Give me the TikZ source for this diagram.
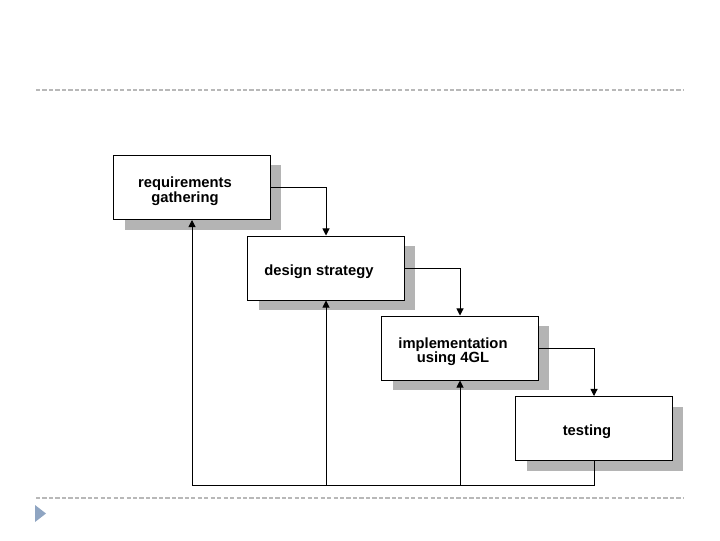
\documentclass[tikz,border=0pt]{standalone}
\usepackage{fontspec}
\setmainfont{Liberation Sans}
\usetikzlibrary{arrows.meta,shadows}
\definecolor{shade}{HTML}{B4B4B4}
\definecolor{rule}{HTML}{B8B8B8}
\definecolor{bullet}{HTML}{8FA5C2}
% text of a phase box: a little left of and below the middle
\newcommand\phtext[1]{\raisebox{-3pt}[\height][\depth]{\begin{tabular}{@{}c@{}}#1\end{tabular}}\hspace*{10pt}}

\begin{document}
\begin{tikzpicture}[x=0.025cm,y=-0.025cm,
  phase/.style={draw,line width=0.7pt,fill=white,minimum width=3.9cm,minimum height=1.6cm,
    font=\fontsize{10.5}{10}\selectfont\bfseries,
    general shadow={fill=shade,shadow xshift=0.275cm,shadow yshift=-0.25cm}},
  flow/.style={line width=0.7pt,-{Triangle[width=5pt,length=5pt]}},
  sep/.style={rule,line width=0.8pt,dash pattern=on 3pt off 1.6pt}]
\useasboundingbox (0,0) rectangle (720,540);
% separators
\draw[sep] (36,90)--(684,90);
\draw[sep] (36,498)--(684,498);
\fill[bullet] (35,505)--(46,513.5)--(35,522)--cycle;
% phases
\node[phase] (req) at (192,187.5) {\phtext{requirements\\gathering}};
\node[phase] (design) at (326,268) {\phtext{design strategy}};
\node[phase] (impl) at (460,348) {\phtext{implementation\\using 4GL}};
\node[phase] (test) at (594,428.5) {\phtext{testing}};
% forward steps
\draw[flow] (req.east) -| (design.north);
\draw[flow] (design.east) -| (impl.north);
\draw[flow] (impl.east) -| (test.north);
% feedback
\coordinate (base) at (192,485);
\draw[flow] (test.south) |- (base) -- (req.south);
\draw[flow] (design.south |- base) -- (design.south);
\draw[flow] (impl.south |- base) -- (impl.south);
\end{tikzpicture}
\end{document}
